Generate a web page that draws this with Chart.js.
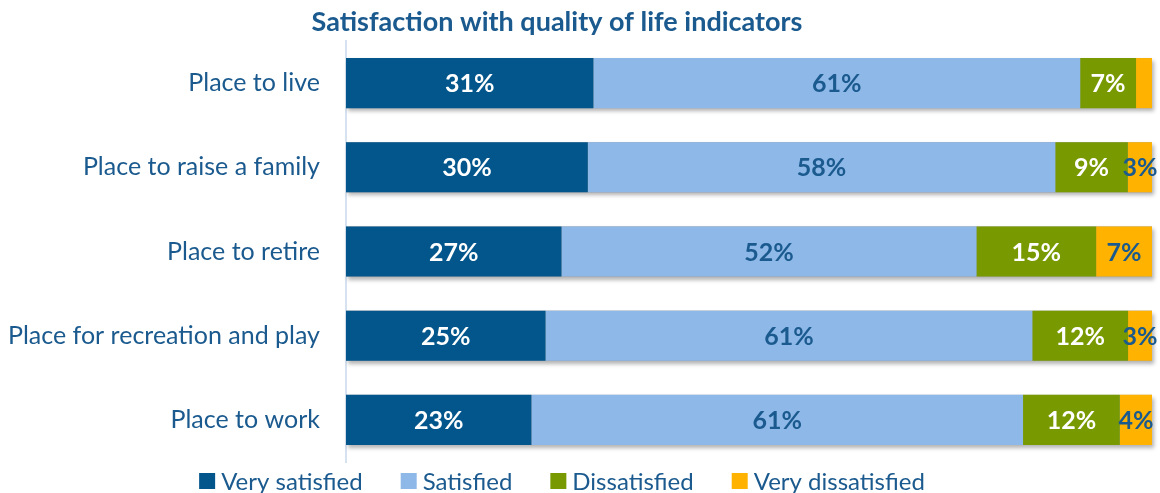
<!DOCTYPE html>
<html>
<head>
<meta charset="utf-8">
<script src="https://cdn.jsdelivr.net/npm/chart.js@4.4.0/dist/chart.umd.min.js"></script>
<style>
  html, body { margin: 0; padding: 0; background: #fff; }
  #wrap { width: 1160px; height: 493px; position: relative; }
</style>
</head>
<body>
<div id="wrap"><canvas id="chart"></canvas></div>
<script>
// Chart data (rounded percentages as labelled)
const categories = [
  'Place to live',
  'Place to raise a family',
  'Place to retire',
  'Place for recreation and play',
  'Place to work'
];
const verySatisfied = [31, 30, 27, 25, 23];
const satisfied = [61, 58, 52, 61, 61];
const dissatisfied = [7, 9, 15, 12, 12];
const veryDissatisfied = [2, 3, 7, 3, 4];

const TITLE = 'Satisfaction with quality of life indicators';
const TEXT_BLUE = '#1B5A8E';
const FONT = 'Lato, "Open Sans", sans-serif';

// 100% stacked: each row is scaled so its segments fill the full bar
const series = [verySatisfied, satisfied, dissatisfied, veryDissatisfied];
const rowTotals = categories.map((c, j) => series.reduce((s, arr) => s + arr[j], 0));
function toShare(arr) {
  return arr.map((v, j) => v / rowTotals[j] * 100);
}

// Shadow under each whole bar, value labels, title and legend
const labelPlugin = {
  id: 'labels',
  beforeDatasetsDraw(chart) {
    const ctx = chart.ctx;
    const last = chart.getDatasetMeta(chart.data.datasets.length - 1);
    const first = chart.getDatasetMeta(0);
    ctx.save();
    ctx.shadowColor = 'rgba(0,0,0,0.3)';
    ctx.shadowBlur = 4;
    ctx.shadowOffsetX = 2;
    ctx.shadowOffsetY = 3;
    ctx.fillStyle = '#999';
    last.data.forEach((bar, j) => {
      const x0 = first.data[j].base;
      ctx.fillRect(x0, bar.y - bar.height / 2, bar.x - x0, bar.height);
    });
    ctx.restore();
  },
  afterDatasetsDraw(chart) {
    const ctx = chart.ctx;
    ctx.save();
    ctx.font = 'bold 25px ' + FONT;
    ctx.textAlign = 'center';
    ctx.textBaseline = 'middle';
    chart.data.datasets.forEach((ds, i) => {
      const meta = chart.getDatasetMeta(i);
      meta.data.forEach((bar, j) => {
        const v = ds.raw[j];
        if (v < 3) return;
        const cx = (bar.x + bar.base) / 2;
        ctx.fillStyle = ds.labelColor;
        ctx.fillText(v + '%', cx, bar.y + 1);
      });
    });

    // title
    ctx.font = 'bold 27px ' + FONT;
    ctx.fillStyle = TEXT_BLUE;
    ctx.fillText(TITLE, 557, 22);

    // legend
    ctx.font = '24px ' + FONT;
    ctx.textAlign = 'left';
    const box = 16, gapText = 6, gapItem = 38;
    const items = chart.data.datasets.map(ds => ({
      text: ds.label, color: ds.backgroundColor, w: ctx.measureText(ds.label).width
    }));
    const total = items.reduce((s, it) => s + box + gapText + it.w, 0) + gapItem * (items.length - 1);
    let x = 562 - total / 2;
    const y = 481;
    items.forEach(it => {
      ctx.fillStyle = it.color;
      ctx.fillRect(x, y - box / 2, box, box);
      ctx.fillStyle = TEXT_BLUE;
      ctx.fillText(it.text, x + box + gapText, y + 1);
      x += box + gapText + it.w + gapItem;
    });
    ctx.restore();
  }
};

const ctx = document.getElementById('chart').getContext('2d');
new Chart(ctx, {
  type: 'bar',
  data: {
    labels: categories,
    datasets: [
      { label: 'Very satisfied', data: toShare(verySatisfied), raw: verySatisfied, backgroundColor: '#02568B', labelColor: '#ffffff' },
      { label: 'Satisfied', data: toShare(satisfied), raw: satisfied, backgroundColor: '#8DB8E8', labelColor: TEXT_BLUE },
      { label: 'Dissatisfied', data: toShare(dissatisfied), raw: dissatisfied, backgroundColor: '#789A00', labelColor: '#ffffff' },
      { label: 'Very dissatisfied', data: toShare(veryDissatisfied), raw: veryDissatisfied, backgroundColor: '#FFB300', labelColor: TEXT_BLUE }
    ]
  },
  options: {
    indexAxis: 'y',
    responsive: true,
    maintainAspectRatio: false,
    animation: false,
    datasets: {
      bar: { barPercentage: 0.595, categoryPercentage: 1.0, borderWidth: 0 }
    },
    layout: { padding: { top: 41, right: 8, left: 0, bottom: 31 } },
    scales: {
      x: {
        stacked: true,
        min: 0,
        max: 100,
        display: false
      },
      y: {
        stacked: true,
        grid: { display: false, drawTicks: false },
        border: { display: true, color: '#D6E2F0', width: 2 },
        ticks: {
          color: TEXT_BLUE,
          font: { size: 25, family: FONT },
          padding: 26
        },
        afterFit(scale) {
          scale.width = 346;
          scale.paddingTop = 0;
          scale.paddingBottom = 0;
        }
      }
    },
    plugins: {
      title: { display: false },
      tooltip: { enabled: false },
      legend: { display: false }
    }
  },
  plugins: [labelPlugin]
});
</script>
</body>
</html>
